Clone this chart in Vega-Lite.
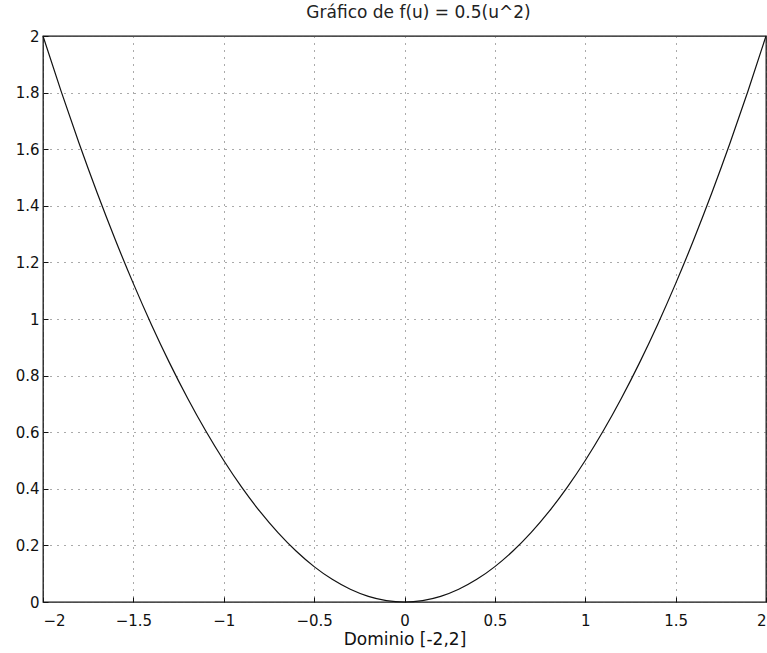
{
  "$schema": "https://vega.github.io/schema/vega-lite/v6.json",
  "autosize": "none",
  "width": 723,
  "height": 566,
  "padding": {"left": 43, "top": 36, "right": 1, "bottom": 51},
  "background": "white",
  "title": {"text": "Gráfico de f(u) = 0.5(u^2)", "font": "DejaVu Sans", "fontSize": 17, "fontWeight": "normal", "color": "#222", "offset": 7, "dx": 14},
  "config": {
    "view": {"stroke": "#111", "strokeWidth": 1.3},
    "axis": {
      "labelFont": "DejaVu Sans", "labelFontSize": 15, "labelColor": "#111",
      "titleFont": "DejaVu Sans", "titleFontSize": 17, "titleFontWeight": "normal", "titleColor": "#111",
      "domain": false, "tickColor": "#111", "tickSize": -5, "tickWidth": 1,
      "grid": true, "gridColor": "#555", "gridDash": [1, 6], "gridWidth": 1
    }
  },
  "data": {"values": [
    {"u": -2.0, "f": 2.0}, {"u": -1.9, "f": 1.805}, {"u": -1.8, "f": 1.62}, {"u": -1.7, "f": 1.445},
    {"u": -1.6, "f": 1.28}, {"u": -1.5, "f": 1.125}, {"u": -1.4, "f": 0.98}, {"u": -1.3, "f": 0.845},
    {"u": -1.2, "f": 0.72}, {"u": -1.1, "f": 0.605}, {"u": -1.0, "f": 0.5}, {"u": -0.9, "f": 0.405},
    {"u": -0.8, "f": 0.32}, {"u": -0.7, "f": 0.245}, {"u": -0.6, "f": 0.18}, {"u": -0.5, "f": 0.125},
    {"u": -0.4, "f": 0.08}, {"u": -0.3, "f": 0.045}, {"u": -0.2, "f": 0.02}, {"u": -0.1, "f": 0.005},
    {"u": 0.0, "f": 0.0},
    {"u": 0.1, "f": 0.005}, {"u": 0.2, "f": 0.02}, {"u": 0.3, "f": 0.045}, {"u": 0.4, "f": 0.08},
    {"u": 0.5, "f": 0.125}, {"u": 0.6, "f": 0.18}, {"u": 0.7, "f": 0.245}, {"u": 0.8, "f": 0.32},
    {"u": 0.9, "f": 0.405}, {"u": 1.0, "f": 0.5}, {"u": 1.1, "f": 0.605}, {"u": 1.2, "f": 0.72},
    {"u": 1.3, "f": 0.845}, {"u": 1.4, "f": 0.98}, {"u": 1.5, "f": 1.125}, {"u": 1.6, "f": 1.28},
    {"u": 1.7, "f": 1.445}, {"u": 1.8, "f": 1.62}, {"u": 1.9, "f": 1.805}, {"u": 2.0, "f": 2.0}
  ]},
  "mark": {"type": "line", "color": "#111", "strokeWidth": 1.2, "interpolate": "monotone"},
  "encoding": {
    "x": {"field": "u", "type": "quantitative", "scale": {"domain": [-2, 2], "nice": false, "zero": false},
      "axis": {"values": [-2, -1.5, -1, -0.5, 0, 0.5, 1, 1.5, 2], "format": "~g", "labelPadding": 16, "title": "Dominio [-2,2]", "titlePadding": 3}},
    "y": {"field": "f", "type": "quantitative", "scale": {"domain": [0, 2], "nice": false},
      "axis": {"values": [0, 0.2, 0.4, 0.6, 0.8, 1, 1.2, 1.4, 1.6, 1.8, 2], "format": "~g", "labelPadding": 9, "title": null}}
  }
}
